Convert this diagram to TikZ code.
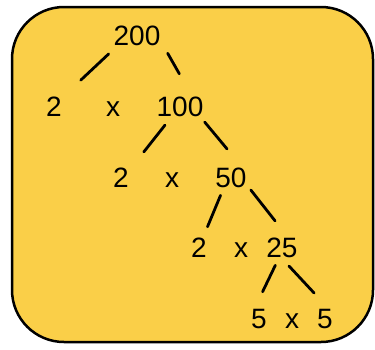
\documentclass[tikz,border=0pt]{standalone}
\usepackage{fontspec}
\setmainfont{Liberation Sans}
\definecolor{boxyellow}{RGB}{250,207,72}

\begin{document}
\begin{tikzpicture}[
  x=1pt, y=-1pt,
  num/.style={inner sep=0pt, outer sep=0pt, text height=20pt, text depth=0pt, anchor=base, font=\fontsize{28}{30}\selectfont},
  branch/.style={line width=2.8pt, line cap=round}
]
  \useasboundingbox (0,0) rectangle (375,349);
  \draw [line width=2.5pt, fill=boxyellow, rounded corners=52pt] (12,7) rectangle (373,342);

  \node (t200) [num] at (137,45) {200};
  \node (t2a) [num] at (54,116) {2};
  \node (xa) [num] at (113,116) {x};
  \node (t100) [num] at (180,116) {100};
  \node (t2b) [num] at (121,187) {2};
  \node (xb) [num] at (172,187) {x};
  \node (t50) [num] at (231,187) {50};
  \node (t2c) [num] at (199,257) {2};
  \node (xc) [num] at (241,257) {x};
  \node (t25) [num] at (282,257) {25};
  \node (t5a) [num] at (259,328) {5};
  \node (xd) [num] at (292,328) {x};
  \node (t5b) [num] at (325,328) {5};

  \draw [branch, shorten <=13pt, shorten >=26pt] (t200.208) -- (t2a.46);
  \draw [branch, shorten <=14.8pt, shorten >=25.5pt] (t200.-13) -- (t100.40);
  \draw [branch, shorten <=11.6pt, shorten >=24.2pt] (t100.232) -- (t2b.38);
  \draw [branch, shorten <=7.9pt, shorten >=23.5pt] (t100.-27) -- (t50.42);
  \draw [branch, shorten <=9pt, shorten >=11.1pt] (t50.235) -- (t2c.67);
  \draw [branch, shorten <=6.9pt, shorten >=20.5pt] (t50.-26) -- (t25.60);
  \draw [branch, shorten <=9.2pt, shorten >=18pt] (t25.255) -- (t5a.113);
  \draw [branch, shorten <=12.3pt, shorten >=20.5pt] (t25.262) -- (t5b.73);
\end{tikzpicture}
\end{document}
